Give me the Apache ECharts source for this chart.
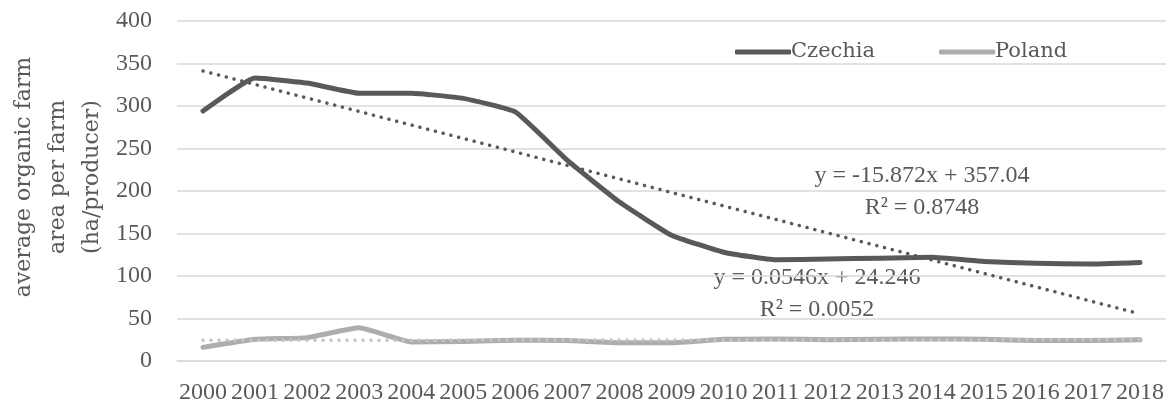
<!DOCTYPE html>
<html>
<head>
<meta charset="utf-8">
<script src="https://cdn.jsdelivr.net/npm/echarts@6/dist/echarts.min.js"></script>
<style>
  html, body { margin: 0; padding: 0; background: #ffffff; }
  #chart { width: 1167px; height: 407px; }
</style>
</head>
<body>
<div id="chart"></div>
<script>
// Average organic farm area per producer, 2000–2018
const years = ['2000','2001','2002','2003','2004','2005','2006','2007','2008','2009',
               '2010','2011','2012','2013','2014','2015','2016','2017','2018'];
const czechia = [294, 333, 327, 315, 315, 309, 293, 236, 187, 148,
                 128, 119, 120, 121, 122, 117, 115, 114, 116];
const poland  = [16, 25.5, 27.5, 39, 22.5, 23, 24.5, 24, 21.5, 21.5,
                 25.5, 26, 25, 25.5, 26, 25.5, 24, 24, 25];

// Linear trend coefficients (x = 1 for the first year)
const czSlope = -15.872, czIntercept = 357.04, czR2 = '0.8748';
const plSlope = 0.0546,  plIntercept = 24.246, plR2 = '0.0052';

const yTicks = { min: 0, max: 400, interval: 50 };

function trend(slope, intercept) {
  return years.map((_, i) => +(slope * (i + 1) + intercept).toFixed(3));
}
function eqText(slope, intercept) {
  return 'y = ' + slope + 'x + ' + intercept;
}

const FONT = '"Liberation Serif", "DejaVu Serif", serif';
const WIDE = '"DejaVu Serif", "Liberation Serif", serif';
const TXT = '#595959';
const DARK = '#595959';
const LIGHT = '#adadad';

const chart = echarts.init(document.getElementById('chart'), null, { renderer: 'canvas' });

chart.setOption({
  animation: false,
  backgroundColor: '#ffffff',
  textStyle: { fontFamily: FONT, color: TXT },
  grid: { left: 177, right: 1, top: 21, bottom: 46, containLabel: false },
  legend: {
    data: ['Czechia', 'Poland'],
    left: 730,
    top: 35,
    itemWidth: 56,
    itemHeight: 5,
    itemGap: 64,
    icon: 'roundRect',
    textStyle: { fontFamily: WIDE, fontSize: 21, color: TXT, lineHeight: 24, padding: [0, 0, 0, -5] }
  },
  xAxis: {
    type: 'category',
    data: years,
    boundaryGap: true,
    axisLine: { show: true, lineStyle: { color: '#d9d9d9', width: 1.5 } },
    axisTick: { show: false },
    axisLabel: { interval: 0, margin: 20, fontFamily: FONT, fontSize: 24, color: TXT }
  },
  yAxis: {
    type: 'value',
    min: yTicks.min,
    max: yTicks.max,
    interval: yTicks.interval,
    axisLine: { show: false },
    axisTick: { show: false },
    axisLabel: { margin: 25, fontFamily: FONT, fontSize: 24, color: TXT },
    splitLine: { show: true, lineStyle: { color: '#d9d9d9', width: 1.5 } }
  },
  series: [
    {
      name: 'Czechia', type: 'line', data: czechia, smooth: 0.12,
      symbol: 'none', itemStyle: { color: DARK },
      lineStyle: { color: DARK, width: 5, cap: 'round', join: 'round' }, z: 2
    },
    {
      name: 'Poland', type: 'line', data: poland, smooth: 0.12,
      symbol: 'none', itemStyle: { color: LIGHT },
      lineStyle: { color: LIGHT, width: 5, cap: 'round', join: 'round' }, z: 2
    },
    {
      name: 'Czechia trend', type: 'line', data: trend(czSlope, czIntercept),
      symbol: 'none', silent: true,
      lineStyle: { color: DARK, width: 3.5, type: [0.1, 7.9], cap: 'round' }, z: 3
    },
    {
      name: 'Poland trend', type: 'line', data: trend(plSlope, plIntercept),
      symbol: 'none', silent: true,
      lineStyle: { color: '#c4c4c4', width: 3.5, type: [0.1, 7.9], cap: 'round' }, z: 3
    }
  ],
  graphic: [
    {
      type: 'text', x: 58, y: 177, rotation: Math.PI / 2,
      style: {
        text: 'average organic farm\narea per farm\n(ha/producer)',
        font: '22px ' + WIDE, fill: TXT, lineHeight: 34,
        align: 'center', verticalAlign: 'middle'
      }
    },
    {
      type: 'text', x: 922, y: 192,
      style: {
        text: eqText(czSlope, czIntercept) + '\nR² = ' + czR2,
        font: '24px ' + FONT, fill: TXT, lineHeight: 32,
        align: 'center', verticalAlign: 'middle'
      }
    },
    {
      type: 'text', x: 817, y: 294,
      style: {
        text: eqText(plSlope, plIntercept) + '\nR² = ' + plR2,
        font: '24px ' + FONT, fill: TXT, lineHeight: 32,
        align: 'center', verticalAlign: 'middle'
      }
    }
  ]
});
</script>
</body>
</html>
